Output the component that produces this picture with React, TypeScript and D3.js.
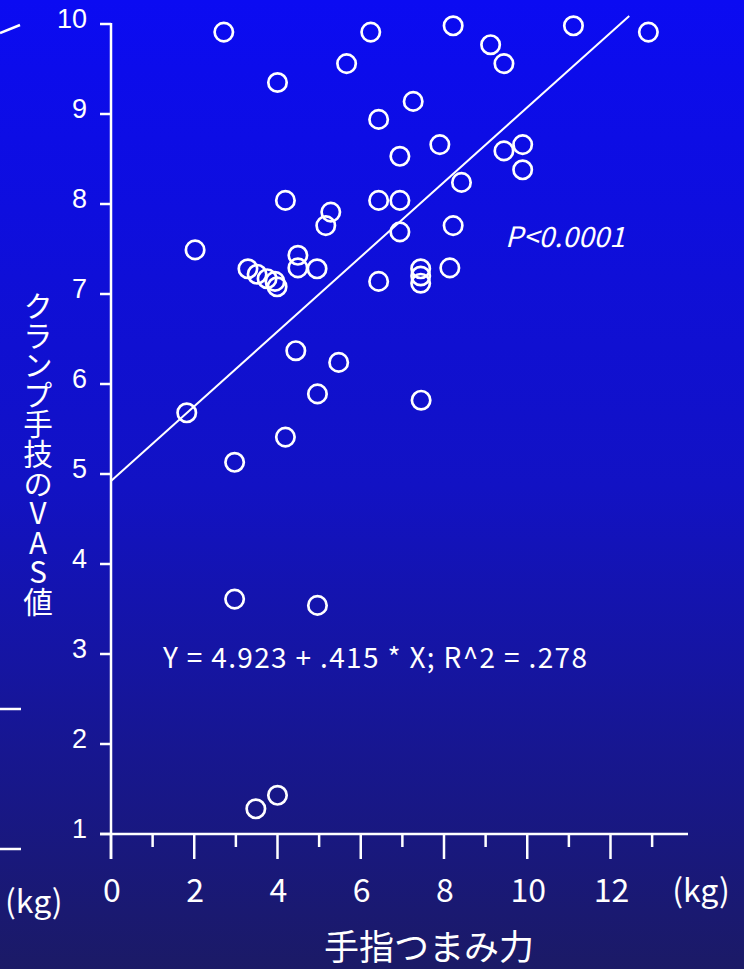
import React from "react";
import * as d3 from "d3";

// ---- data ----
const pinchKg = [
  2.71, 6.24, 5.66, 4.0, 7.26, 6.43, 7.9, 6.94, 4.19, 6.43, 6.94, 5.28, 5.16, 6.94,
  2.02, 3.29, 3.51, 3.75, 3.94, 3.99, 4.49, 4.49, 4.95, 6.43, 7.44, 7.44, 7.44,
  8.22, 9.12, 9.44, 11.11, 12.91, 9.44, 9.89, 9.89, 8.42, 8.22, 8.14,
  4.44, 5.47, 4.96, 7.45, 1.82, 4.19, 2.97, 2.97, 4.96, 3.48, 4.0,
];
const vasScore = [
  9.91, 9.91, 9.56, 9.35, 9.14, 8.94, 8.66, 8.53, 8.04, 8.04, 8.04, 7.91, 7.76, 7.69,
  7.49, 7.28, 7.22, 7.17, 7.14, 7.08, 7.43, 7.29, 7.28, 7.14, 7.28, 7.2, 7.12,
  9.98, 9.77, 9.56, 9.98, 9.91, 8.59, 8.66, 8.38, 8.24, 7.76, 7.29,
  6.37, 6.24, 5.89, 5.82, 5.68, 5.41, 5.13, 3.61, 3.54, 1.28, 1.43,
];
const xMajorTicks = [0, 2, 4, 6, 8, 10, 12];
const xMinorTicks = [1, 3, 5, 7, 9, 11, 13];
const yTicks = [1, 2, 3, 4, 5, 6, 7, 8, 9, 10];
const intercept = 4.923;
const slope = 0.415;
const fitRange = [0, 12.45];
const yLabel = "クランプ手技のVAS値";
const xTitle = "手指つまみ力";
const equationText = "Y = 4.923 + .415 * X; R^2 = .278";
const pText = "P<0.0001";
const unitText = "(kg)";

const W = 752;
const H = 969;
const FONT = "'Noto Sans CJK JP', 'Noto Sans', sans-serif";
const TICK_FONT = "'Liberation Sans', Arial, sans-serif";

export default function App() {
  const x = d3.scaleLinear().domain([0, 12]).range([111, 610.5]);
  const y = d3.scaleLinear().domain([1, 10]).range([834, 24]);
  const points = pinchKg.map((v, i) => ({ x: v, y: vasScore[i] }));
  const fitLine = d3
    .line<number>()
    .x((d) => x(d))
    .y((d) => y(intercept + slope * d))(fitRange);

  const stroke = "#ffffff";
  return (
    <div style={{ position: "absolute", left: 0, top: 0 }}>
      <svg width={W} height={H} style={{ display: "block", background: "#ffffff" }}>
        <defs>
          <linearGradient id="bg" x1="0" y1="0" x2="0" y2="1">
            <stop offset="0%" stopColor="#0b0bf2" />
            <stop offset="50%" stopColor="#1212c4" />
            <stop offset="100%" stopColor="#1b1a66" />
          </linearGradient>
        </defs>
        <rect x={0} y={0} width={744} height={H} fill="url(#bg)" />

        {/* remnants of neighbouring chart */}
        <line x1={0} y1={33} x2={20} y2={25} stroke={stroke} strokeWidth={2.5} />
        <line x1={0} y1={709} x2={21} y2={709} stroke={stroke} strokeWidth={2.5} />
        <line x1={0} y1={849} x2={21} y2={849} stroke={stroke} strokeWidth={2.5} />
        <text x={5} y={913} fill="#fff" fontSize={32} fontFamily={FONT}>
          {unitText}
        </text>

        {/* axes */}
        <line x1={x(0)} y1={y(10) - 1} x2={x(0)} y2={859} stroke={stroke} strokeWidth={2.5} />
        <line x1={100} y1={y(1)} x2={688} y2={y(1)} stroke={stroke} strokeWidth={2.5} />
        {yTicks.map((t) => (
          <g key={"yt" + t}>
            <line x1={100} y1={y(t)} x2={x(0)} y2={y(t)} stroke={stroke} strokeWidth={2.5} />
            <text
              x={87}
              y={y(t) + 4}
              textAnchor="end"
              fill="#fff"
              fontSize={27}
              fontFamily={TICK_FONT}
            >
              {t}
            </text>
          </g>
        ))}
        {xMajorTicks.map((t) => (
          <g key={"xt" + t}>
            <line x1={x(t)} y1={y(1)} x2={x(t)} y2={859} stroke={stroke} strokeWidth={2.5} />
            <text
              x={x(t) + 1}
              y={902}
              textAnchor="middle"
              fill="#fff"
              fontSize={32}
              fontFamily={FONT}
            >
              {t}
            </text>
          </g>
        ))}
        {xMinorTicks.map((t) => (
          <line
            key={"xm" + t}
            x1={x(t)}
            y1={y(1)}
            x2={x(t)}
            y2={847}
            stroke={stroke}
            strokeWidth={2.5}
          />
        ))}
        <text x={701} y={902} textAnchor="middle" fill="#fff" fontSize={32} fontFamily={FONT}>
          {unitText}
        </text>

        {/* regression line */}
        <path d={fitLine || ""} fill="none" stroke={stroke} strokeWidth={2} />

        {/* points */}
        {points.map((p, i) => (
          <circle
            key={i}
            cx={x(p.x)}
            cy={y(p.y)}
            r={9.2}
            fill="none"
            stroke={stroke}
            strokeWidth={2.7}
          />
        ))}

        {/* annotations */}
        <text
          x={163}
          y={668}
          fill="#fff"
          fontSize={28}
          fontFamily={FONT}
          textLength={424}
          lengthAdjust="spacing"
        >
          {equationText}
        </text>
        <text
          x={505}
          y={247}
          fill="#fff"
          fontSize={28}
          fontStyle="italic"
          fontFamily={FONT}
          textLength={120}
          lengthAdjust="spacingAndGlyphs"
        >
          {pText}
        </text>

        {/* y label: vertical upright text */}
        <text
          x={38}
          y={291}
          fill="#fff"
          fontSize={29.6}
          fontFamily={FONT}
          style={{ writingMode: "vertical-rl", textOrientation: "upright" } as any}
        >
          {yLabel}
        </text>

        {/* x title */}
        <text x={429} y={960} textAnchor="middle" fill="#fff" fontSize={35} fontFamily={FONT}>
          {xTitle}
        </text>
      </svg>
    </div>
  );
}
